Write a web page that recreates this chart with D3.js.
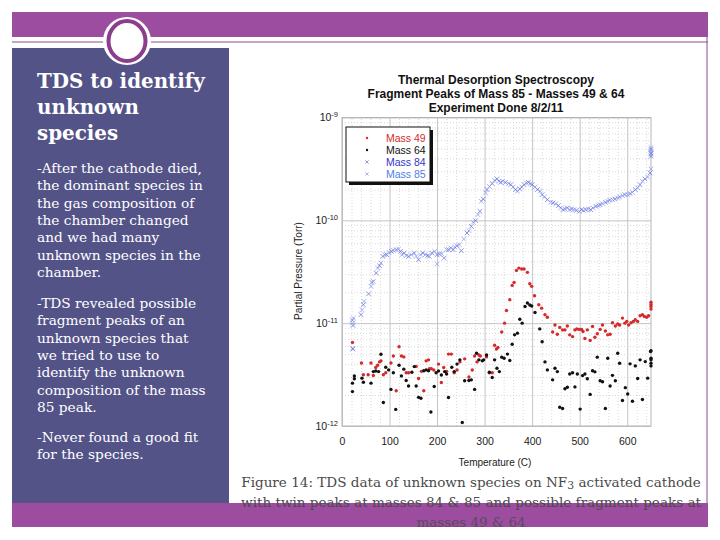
<!DOCTYPE html>
<html><head><meta charset="utf-8">
<script src="https://cdn.jsdelivr.net/npm/d3@7"></script>
<style>body{margin:0;background:#fff}svg{display:block}</style>
</head><body>
<svg id="s" width="720" height="540"></svg>
<script>
// ---------- data ----------
const xTicks = [0,100,200,300,400,500,600];
const yTicks = [1e-12,1e-11,1e-10,1e-9];
const yExponents = ["-12","-11","-10","-9"];
const titleLines = ["Thermal Desorption Spectroscopy","Fragment Peaks of Mass 85 - Masses 49 & 64","Experiment Done 8/2/11"];
const seriesNames = ["Mass 49","Mass 64","Mass 84","Mass 85"];
const panelTitle = ["TDS to identify","unknown","species"];
const panelPara1 = ["-After the cathode died,","the dominant species in","the gas composition of","the chamber changed","and we had many","unknown species in the","chamber."];
const panelPara2 = ["-TDS revealed possible","fragment peaks of an","unknown species that","we tried to use to","identify the unknown","composition of the mass","85 peak."];
const panelPara3 = ["-Never found a good fit","for the species."];

const mass49 = [[22,6.5e-12],[41,4.1e-12],[45,3.15e-12],[55,3.15e-12],[61,4.1e-12],[66,3.1e-12],[71,3.7e-12],[75,3.9e-12],[79,4.2e-12],[82,4.3e-12],[87,3.15e-12],[92,3.3e-12],[103,4.1e-12],[108,4.8e-12],[114,2.2e-12],[120,5.9e-12],[125,4.8e-12],[130,4.7e-12],[135,3.3e-12],[140,3.3e-12],[156,3.8e-12],[161,2.9e-12],[167,3.4e-12],[172,2.2e-12],[177,4.3e-12],[182,4.4e-12],[184,3.6e-12],[188,3.6e-12],[193,3.5e-12],[203,4.0e-12],[209,2.65e-12],[214,3.7e-12],[220,3.4e-12],[224,5.0e-12],[230,5.0e-12],[236,3.3e-12],[242,3.5e-12],[248,4.2e-12],[258,4.5e-12],[267,3.0e-12],[274,3.5e-12],[279,4.8e-12],[284,4.2e-12],[288,4.9e-12],[291,4.8e-12],[304,4.7e-12],[310,3.3e-12],[316,3.3e-12],[321,6.1e-12],[325,5.6e-12],[328,5.8e-12],[336,8.2e-12],[342,1.0e-11],[346,1.33e-11],[353,1.69e-11],[358,2.33e-11],[362,2.49e-11],[367,3.26e-11],[372,3.43e-11],[378,3.36e-11],[383,3.36e-11],[390,3.12e-11],[395,2.42e-11],[399,2.28e-11],[405,1.85e-11],[414,1.51e-11],[420,1.40e-11],[427,1.21e-11],[432,1.14e-11],[443,8.2e-12],[448,9.6e-12],[453,7.8e-12],[458,9.1e-12],[464,8.6e-12],[469,8.6e-12],[474,9.4e-12],[479,7.7e-12],[485,7.4e-12],[490,8.6e-12],[494,8.8e-12],[499,8.7e-12],[504,8.7e-12],[507,8.3e-12],[511,7.1e-12],[516,8.6e-12],[522,6.8e-12],[527,9.3e-12],[532,7.3e-12],[537,7.9e-12],[543,8.7e-12],[548,9.6e-12],[554,8.4e-12],[559,7.7e-12],[564,7.8e-12],[569,1.01e-11],[575,9.4e-12],[580,9.8e-12],[584,9.6e-12],[590,1.12e-11],[595,1.0e-11],[599,1.04e-11],[603,9.6e-12],[608,1.01e-11],[613,1.04e-11],[617,1.08e-11],[622,1.04e-11],[627,1.18e-11],[632,1.21e-11],[636,1.16e-11],[641,1.14e-11],[645,1.18e-11],[650,1.37e-11],[650,1.45e-11],[650,1.52e-11],[650,1.6e-11]];

const mass64 = [[22,2.16e-12],[22,2.61e-12],[26,2.88e-12],[26,3.07e-12],[42,2.92e-12],[45,2.66e-12],[61,2.61e-12],[66,3.38e-12],[71,3.43e-12],[77,3.38e-12],[82,4.99e-12],[87,1.69e-12],[92,3.73e-12],[98,3.51e-12],[103,2.27e-12],[108,3.3e-12],[113,1.45e-12],[120,3.9e-12],[125,3.07e-12],[130,3.57e-12],[135,2.77e-12],[140,2.45e-12],[147,3.33e-12],[152,3.78e-12],[156,2.45e-12],[161,1.9e-12],[166,1.86e-12],[172,3.45e-12],[177,3.51e-12],[182,3.45e-12],[187,1.37e-12],[194,2.42e-12],[198,3.3e-12],[203,3.43e-12],[209,3.13e-12],[216,3.38e-12],[220,3.2e-12],[224,1.89e-12],[231,3.73e-12],[236,3.38e-12],[242,4.0e-12],[248,4.4e-12],[253,1.08e-12],[258,2.75e-12],[267,2.77e-12],[272,2.81e-12],[279,2.27e-12],[283,5.1e-12],[288,4.4e-12],[295,4.3e-12],[298,4.4e-12],[304,4.9e-12],[310,3.33e-12],[316,2.96e-12],[321,4.4e-12],[326,3.65e-12],[331,3.38e-12],[336,4.67e-12],[341,4.56e-12],[348,5.0e-12],[353,4.33e-12],[358,6.24e-12],[363,7.7e-12],[369,8.0e-12],[374,1.09e-11],[379,1.0e-11],[385,1.45e-11],[390,1.57e-11],[395,1.50e-11],[399,1.47e-11],[406,1.27e-11],[416,8.8e-12],[421,6.6e-12],[427,4.2e-12],[432,3.51e-12],[443,2.81e-12],[448,3.65e-12],[453,3.38e-12],[458,1.52e-12],[464,1.48e-12],[469,2.3e-12],[474,2.38e-12],[479,3.2e-12],[485,3.3e-12],[490,2.4e-12],[495,3.2e-12],[501,1.46e-12],[506,3.09e-12],[511,3.2e-12],[516,2.88e-12],[522,2.03e-12],[527,3.45e-12],[532,3.36e-12],[537,4.67e-12],[543,2.75e-12],[548,2.69e-12],[554,1.48e-12],[559,4.56e-12],[564,2.45e-12],[569,3.11e-12],[575,2.75e-12],[580,5.1e-12],[584,4.08e-12],[590,1.77e-12],[596,2.36e-12],[601,2.05e-12],[606,4.02e-12],[611,1.74e-12],[617,3.84e-12],[622,2.9e-12],[627,4.4e-12],[632,1.81e-12],[638,4.23e-12],[643,2.92e-12],[650,5.4e-12],[649,5.3e-12],[650,4.56e-12],[650,4.4e-12],[650,4.08e-12],[650,3.84e-12]];

const mass84 = [[22,1.07e-11],[23,9.5e-12],[23,5.6e-12],[40,1.21e-11],[45,1.51e-11],[56,1.93e-11],[63,2.49e-11],[72,3.07e-11],[79,3.62e-11],[86,4.46e-11],[94,4.63e-11],[104,4.99e-11],[114,5.18e-11],[123,4.99e-11],[131,4.81e-11],[140,4.46e-11],[152,4.81e-11],[161,4.14e-11],[170,4.81e-11],[180,4.53e-11],[189,4.81e-11],[200,4.63e-11],[205,4.70e-11],[215,4.30e-11],[224,5.18e-11],[234,5.18e-11],[242,5.66e-11],[251,5.07e-11],[263,7.53e-11],[272,8.74e-11],[281,9.93e-11],[290,1.224e-10],[297,1.61e-10],[305,1.99e-10],[316,2.28e-10],[326,2.53e-10],[334,2.34e-10],[344,2.34e-10],[355,2.22e-10],[365,1.99e-10],[374,2.02e-10],[383,2.22e-10],[392,2.34e-10],[400,2.22e-10],[411,1.99e-10],[421,1.78e-10],[432,1.59e-10],[444,1.48e-10],[455,1.39e-10],[465,1.27e-10],[474,1.32e-10],[483,1.29e-10],[493,1.25e-10],[504,1.27e-10],[513,1.27e-10],[523,1.27e-10],[534,1.37e-10],[543,1.42e-10],[554,1.50e-10],[563,1.57e-10],[574,1.61e-10],[584,1.69e-10],[595,1.78e-10],[606,1.82e-10],[617,1.99e-10],[627,2.22e-10],[637,2.53e-10],[648,2.89e-10],[650,4.2e-10],[650,4.5e-10],[650,4.9e-10]];

const mass85 = [[22,1.0e-11],[22,5.7e-12],[24,1.12e-11],[42,1.35e-11],[46,1.63e-11],[61,2.28e-11],[66,2.55e-11],[75,3.43e-11],[82,3.84e-11],[90,4.63e-11],[99,4.88e-11],[108,5.10e-11],[119,5.26e-11],[126,4.63e-11],[135,4.53e-11],[146,4.63e-11],[156,4.46e-11],[165,4.63e-11],[175,4.63e-11],[184,4.46e-11],[195,4.99e-11],[200,3.76e-11],[210,4.73e-11],[220,5.18e-11],[229,5.38e-11],[237,5.50e-11],[247,5.79e-11],[256,6.58e-11],[267,7.93e-11],[276,9.57e-11],[286,1.135e-10],[293,1.53e-10],[302,1.85e-10],[310,2.14e-10],[321,2.45e-10],[330,2.40e-10],[338,2.40e-10],[350,2.28e-10],[360,2.11e-10],[369,1.92e-10],[378,2.11e-10],[388,2.31e-10],[397,2.28e-10],[406,2.11e-10],[417,1.92e-10],[426,1.69e-10],[439,1.50e-10],[450,1.45e-10],[460,1.32e-10],[469,1.29e-10],[479,1.27e-10],[488,1.27e-10],[499,1.22e-10],[508,1.25e-10],[518,1.29e-10],[528,1.32e-10],[539,1.39e-10],[548,1.45e-10],[559,1.53e-10],[569,1.59e-10],[580,1.65e-10],[590,1.74e-10],[601,1.78e-10],[611,1.87e-10],[622,2.07e-10],[632,2.40e-10],[643,2.64e-10],[650,3.16e-10],[650,4.4e-10],[650,4.7e-10],[650,5.1e-10]];

// ---------- slide frame ----------
const svg = d3.select("#s");
const PURPLE = "#9d4d9f", PANEL = "#545388";
const serif = "'DejaVu Serif', serif";
const sans = "'Liberation Sans', Arial, Helvetica, sans-serif";

svg.append("rect").attr("x",12).attr("y",12).attr("width",696).attr("height",25).attr("fill",PURPLE);
svg.append("line").attr("x1",12).attr("x2",708).attr("y1",42).attr("y2",42).attr("stroke","#8a4a8f").attr("stroke-width",1.2);
svg.append("line").attr("x1",707).attr("x2",707).attr("y1",37).attr("y2",503).attr("stroke","#8a4a8f").attr("stroke-width",1);
svg.append("rect").attr("x",12).attr("y",48).attr("width",217).attr("height",455).attr("fill",PANEL);
svg.append("rect").attr("x",12).attr("y",503).attr("width",696).attr("height",24).attr("fill",PURPLE);
svg.append("circle").attr("cx",127).attr("cy",41).attr("r",24).attr("fill","#fff");
svg.append("ellipse").attr("cx",127).attr("cy",41).attr("rx",18.5).attr("ry",20).attr("fill","#fff").attr("stroke","#8a3e8c").attr("stroke-width",4);

// fit helper: scale font-size so reference line has target width
function fitSize(family, weight, sample, base, target){
  const t = svg.append("text").attr("font-family",family).attr("font-weight",weight).attr("font-size",base).text(sample);
  const w = t.node().getComputedTextLength(); t.remove();
  return base*target/w;
}

// ---------- left panel text ----------
const tSize = fitSize(serif,"bold",panelTitle[0],20,168);
panelTitle.forEach((s,i)=>svg.append("text").attr("x",37).attr("y",88+i*26)
  .attr("font-family",serif).attr("font-weight","bold").attr("font-size",tSize).attr("fill","#fff").text(s));
const bSize = fitSize(serif,"normal",panelPara1[0],14,165);
function para(lines,y0){
  lines.forEach((s,i)=>svg.append("text").attr("x",37).attr("y",y0+i*17.3)
    .attr("font-family",serif).attr("font-size",bSize).attr("fill","#fff").text(s));
}
para(panelPara1,173); para(panelPara2,308); para(panelPara3,442);

// ---------- caption ----------
const capFirst = "Figure 14: TDS data of unknown species on NF3 activated cathode";
const cSize = fitSize(serif,"normal",capFirst,14,462);
const cap1 = svg.append("text").attr("x",471).attr("y",487).attr("text-anchor","middle")
  .attr("font-family",serif).attr("font-size",cSize).attr("fill","#4a4a4a");
cap1.append("tspan").text("Figure 14: TDS data of unknown species on NF");
cap1.append("tspan").attr("font-size",cSize*0.8).attr("dy",2).text("3");
cap1.append("tspan").attr("dy",-2).text(" activated cathode");
svg.append("text").attr("x",471).attr("y",507).attr("text-anchor","middle")
  .attr("font-family",serif).attr("font-size",cSize).attr("fill","#4a4a4a")
  .text("with twin peaks at masses 84 & 85 and possible fragment peaks at");
svg.append("text").attr("x",471).attr("y",527).attr("text-anchor","middle")
  .attr("font-family",serif).attr("font-size",cSize).attr("fill","#5a4a60")
  .text("masses 49 & 64");

// ---------- chart ----------
const L=342, R=651, T=117.5, B=426;
const x = d3.scaleLinear().domain([0,650]).range([L,R]);
const y = d3.scaleLog().domain([1e-12,1e-9]).range([B,T]);
const g = svg.append("g");

// minor grid
const minorX = d3.range(20,650,20).filter(v=>v%100!==0);
const minorY = [];
yTicks.slice(0,3).forEach(d=>{ for(let k=2;k<=9;k++) minorY.push(d*k); });
g.append("g").attr("transform",`translate(0,${B})`)
  .call(d3.axisBottom(x).tickValues(minorX).tickSize(-(B-T)).tickFormat(""))
  .call(a=>a.select(".domain").remove())
  .call(a=>a.selectAll("line").attr("stroke","#cfcfcf").attr("stroke-dasharray","1,2").attr("stroke-width",0.8));
g.append("g").attr("transform",`translate(${L},0)`)
  .call(d3.axisLeft(y).tickValues(minorY).tickSize(-(R-L)).tickFormat(""))
  .call(a=>a.select(".domain").remove())
  .call(a=>a.selectAll("line").attr("stroke","#cfcfcf").attr("stroke-dasharray","1,2").attr("stroke-width",0.8));
// major grid + axes
g.append("g").attr("transform",`translate(0,${B})`)
  .call(d3.axisBottom(x).tickValues(xTicks).tickSize(-(B-T)).tickPadding(12))
  .call(a=>a.select(".domain").remove())
  .call(a=>a.selectAll("line").attr("stroke","#c4c4c4"))
  .call(a=>a.selectAll("text").attr("font-family",sans).attr("font-size",10.5).attr("fill","#222"));
g.append("g").attr("transform",`translate(${L},0)`)
  .call(d3.axisLeft(y).tickValues(yTicks).tickSize(-(R-L)).tickPadding(4).tickFormat(()=>"10"))
  .call(a=>a.select(".domain").remove())
  .call(a=>a.selectAll("line").attr("stroke","#c4c4c4"))
  .call(a=>a.selectAll("text").attr("font-family",sans).attr("font-size",10.5).attr("fill","#222")
    .each(function(d,i){ d3.select(this).append("tspan").attr("dy","-0.55em").attr("font-size",7.5).text(yExponents[i]); }));
g.append("rect").attr("x",L).attr("y",T).attr("width",R-L).attr("height",B-T)
  .attr("fill","none").attr("stroke","#b5b5b5").attr("stroke-width",1);

// titles
titleLines.forEach((s,i)=>svg.append("text").attr("x",496).attr("y",84+i*14).attr("text-anchor","middle")
  .attr("font-family",sans).attr("font-weight","bold").attr("font-size",12).attr("fill","#111").text(s));
svg.append("text").attr("x",495).attr("y",466).attr("text-anchor","middle")
  .attr("font-family",sans).attr("font-size",10).attr("fill","#222").text("Temperature (C)");
svg.append("text").attr("transform","translate(302,271) rotate(-90)").attr("text-anchor","middle")
  .attr("font-family",sans).attr("font-size",10).attr("fill","#222").text("Partial Pressure (Torr)");

// marks
const xPath = "M-2.3,-2.3L2.3,2.3M-2.3,2.3L2.3,-2.3";
const cross = (data,color,op)=>g.append("g").selectAll("path").data(data).join("path")
  .attr("d",xPath).attr("transform",d=>`translate(${x(d[0])},${y(d[1])})`)
  .attr("fill","none").attr("stroke",color).attr("stroke-width",0.9).attr("opacity",op);
cross(mass85,"#8aa6f0",0.9);
cross(mass84,"#6a6ad8",0.8);
const dots = (data,color)=>g.append("g").selectAll("circle").data(data).join("circle")
  .attr("cx",d=>x(d[0])).attr("cy",d=>y(d[1])).attr("r",1.7).attr("fill",color);
dots(mass49,"#d42a2a");
dots(mass64,"#111");

// legend
const lg = svg.append("g");
lg.append("rect").attr("x",349).attr("y",130).attr("width",84).attr("height",55).attr("fill","#111");
lg.append("rect").attr("x",346).attr("y",127).attr("width",84).attr("height",55).attr("fill","#fff").attr("stroke","#111").attr("stroke-width",1);
const legColors = ["#d42a2a","#111","#3535c8","#4f7fe6"];
const markColors = ["#d42a2a","#111","#8a8ad8","#9ab0ee"];
seriesNames.forEach((s,i)=>{
  const yy = 138+i*12;
  if(i<2) lg.append("circle").attr("cx",367).attr("cy",yy).attr("r",1.2).attr("fill",markColors[i]);
  else lg.append("path").attr("d","M-1.6,-1.6L1.6,1.6M-1.6,1.6L1.6,-1.6").attr("transform",`translate(367,${yy})`)
    .attr("stroke",markColors[i]).attr("stroke-width",0.9).attr("fill","none");
  lg.append("text").attr("x",386).attr("y",yy+3.8).attr("font-family",sans).attr("font-size",10.5)
    .attr("fill",legColors[i]).text(s);
});
</script>
</body></html>
